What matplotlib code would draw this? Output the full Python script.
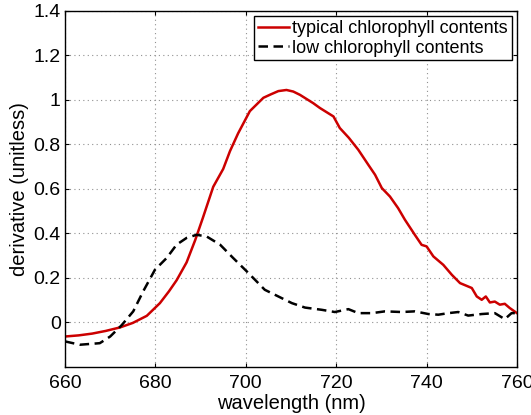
import numpy as np
import matplotlib
matplotlib.use("Agg")
import matplotlib.pyplot as plt

plt.rcParams['font.family'] = ['Liberation Sans', 'DejaVu Sans']

# typical chlorophyll contents (red, solid)
wl_typ = [660, 663, 666, 669, 672.2, 675, 678.1, 681, 683, 684.7, 686.9, 688.8,
          690.5, 692.8, 695, 696.5, 698.3, 700.9, 703.9, 705.5, 707.2, 709, 710.5,
          712, 714.9, 716.4, 719.4, 720.8, 722.8, 724.9, 727.1, 728.6, 730.1, 731.9,
          733.7, 735.2, 737.4, 738.9, 740, 741.5, 743.7, 745.6, 747.4, 750, 751.1,
          752.2, 753.1, 754, 755.1, 756.2, 757.3, 758.4, 760]
d_typ = [-0.063, -0.058, -0.05, -0.038, -0.022, -0.002, 0.03, 0.087, 0.14, 0.19,
         0.27, 0.37, 0.47, 0.61, 0.69, 0.77, 0.85, 0.95, 1.01, 1.025, 1.04, 1.045,
         1.038, 1.023, 0.986, 0.964, 0.926, 0.874, 0.83, 0.776, 0.709, 0.664, 0.604,
         0.566, 0.514, 0.462, 0.394, 0.349, 0.342, 0.297, 0.259, 0.214, 0.177, 0.155,
         0.117, 0.102, 0.117, 0.09, 0.094, 0.08, 0.084, 0.065, 0.042]

# low chlorophyll contents (black, dashed)
wl_low = [660, 663.3, 667.7, 670, 672.5, 675.1, 677.3, 679.9, 682.5, 684.7, 686.9,
          689.1, 691.3, 694.3, 697.2, 700.2, 703.1, 704.2, 707.2, 710.2, 713.1, 716.8,
          719.7, 722.7, 724.9, 727.9, 730.8, 734.5, 737.4, 740.4, 742.6, 744.8, 747,
          749.2, 752.2, 755.1, 757.3, 758.8, 760]
d_low = [-0.085, -0.1, -0.093, -0.063, -0.013, 0.05, 0.14, 0.237, 0.29, 0.35, 0.38,
         0.394, 0.387, 0.35, 0.29, 0.23, 0.17, 0.147, 0.117, 0.087, 0.067, 0.057,
         0.047, 0.06, 0.042, 0.042, 0.05, 0.047, 0.05, 0.038, 0.035, 0.042, 0.047,
         0.031, 0.038, 0.042, 0.015, 0.042, 0.042]

fig = plt.figure(figsize=(5.31, 4.15), dpi=100)
ax = fig.add_axes([0.1224, 0.1157, 0.8512, 0.8578])

ax.plot(wl_typ, d_typ, color='#cc0000', lw=1.8, label='typical chlorophyll contents')
ax.plot(wl_low, d_low, color='black', lw=1.8, ls=(0, (3.8, 2.2)),
        label='low chlorophyll contents')

ax.set_xlim(660, 760)
ax.set_ylim(-0.2, 1.4)
ax.set_xticks([660, 680, 700, 720, 740, 760])
ax.set_yticks([0, 0.2, 0.4, 0.6, 0.8, 1.0, 1.2, 1.4])
ax.set_yticklabels(['0', '0.2', '0.4', '0.6', '0.8', '1', '1.2', '1.4'])
ax.tick_params(direction='in', length=3, top=True, right=True, labelsize=14)
ax.tick_params(axis='x', pad=6)
ax.tick_params(axis='y', pad=3)
ax.grid(True, ls=(0, (1, 3)), color='#909090', lw=0.8)
for s in ax.spines.values():
    s.set_linewidth(1.0)

ax.set_xlabel('wavelength (nm)', fontsize=14.5, labelpad=1)
ax.set_ylabel('derivative (unitless)', fontsize=14.5, labelpad=3)

leg = ax.legend(loc='upper right', fontsize=13, handlelength=1.7, handletextpad=0.2,
                labelspacing=0.15, borderpad=0.2, borderaxespad=0.3, fancybox=False,
                framealpha=1)
leg.get_frame().set_edgecolor('black')
leg.get_frame().set_linewidth(1.0)

fig.savefig('out.png', dpi=100)
